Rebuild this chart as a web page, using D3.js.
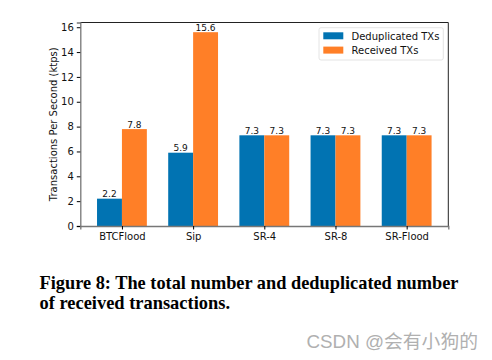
<!DOCTYPE html>
<html><head><meta charset="utf-8">
<script src="https://cdn.jsdelivr.net/npm/d3@7"></script>
<style>body{margin:0;background:#fff;}svg{display:block;}</style>
</head><body>
<script>
const categories = ["BTCFlood", "Sip", "SR-4", "SR-8", "SR-Flood"];
const dedupValues = [2.2, 5.9, 7.3, 7.3, 7.3];
const receivedValues = [7.8, 15.6, 7.3, 7.3, 7.3];
const seriesNames = ["Deduplicated TXs", "Received TXs"];
const seriesColors = ["#0173b2", "#ff7f27"];
const yTicks = [0, 2, 4, 6, 8, 10, 12, 14, 16];
const captionLines = ["Figure 8: The total number and deduplicated number", "of received transactions."];
const watermark = "CSDN @会有小狗的";

const W = 492, H = 360;
const svg = d3.select("body").append("svg").attr("width", W).attr("height", H);
const L = 80.3, R = 448.3, T = 22.5, B = 226;
const barW = 0.35;
const x = d3.scaleLinear().domain([-0.585, categories.length - 1 + 0.585]).range([L, R]);
const y = d3.scaleLinear().domain([0, 15.6 * 1.05]).range([B, T]);
const font = "DejaVu Sans";
const series = [dedupValues, receivedValues];

const g = svg.append("g");
series.forEach((vals, si) => {
  const off = si === 0 ? -barW / 2 : barW / 2;
  g.selectAll(".b" + si).data(vals).enter().append("rect")
    .attr("x", (d, i) => x(i + off - barW / 2))
    .attr("width", x(barW) - x(0))
    .attr("y", d => y(d))
    .attr("height", d => y(0) - y(d))
    .attr("fill", seriesColors[si]);
  g.selectAll(".t" + si).data(vals).enter().append("text")
    .attr("x", (d, i) => x(i + off))
    .attr("y", d => y(d) - 1.5)
    .attr("text-anchor", "middle")
    .attr("font-family", font).attr("font-size", 9).attr("fill", "#111")
    .text(d => d.toFixed(1));
});

// frame
svg.append("line").attr("x1", L).attr("x2", R).attr("y1", T).attr("y2", T).attr("stroke", "#222").attr("stroke-width", 1);
svg.append("line").attr("x1", R).attr("x2", R).attr("y1", T).attr("y2", B).attr("stroke", "#222").attr("stroke-width", 1);

const yAxis = d3.axisLeft(y).tickValues(yTicks).tickSize(3.5).tickPadding(3).tickFormat(d3.format("d"));
const ya = svg.append("g").attr("transform", `translate(${L},0)`).call(yAxis);
ya.select(".domain").attr("stroke", "#777").attr("stroke-width", 1.3);
ya.selectAll("text").attr("font-family", font).attr("font-size", 10).attr("fill", "#111");

const xAxis = d3.axisBottom(x).tickValues(d3.range(categories.length)).tickSize(3.5).tickPadding(3).tickFormat(i => categories[i]);
const xa = svg.append("g").attr("transform", `translate(0,${B})`).call(xAxis);
xa.select(".domain").attr("stroke", "#777").attr("stroke-width", 1.3);
xa.selectAll("text").attr("font-family", font).attr("font-size", 10).attr("fill", "#111");

svg.append("text").attr("transform", `translate(56.5,${(T + B) / 2}) rotate(-90)`)
  .attr("text-anchor", "middle").attr("font-family", font).attr("font-size", 10).attr("fill", "#111")
  .text("Transactions Per Second (ktps)");

// legend
const lg = svg.append("g");
lg.append("rect").attr("x", 319).attr("y", 27.7).attr("width", 124.3).attr("height", 32.3).attr("rx", 2)
  .attr("fill", "#fff").attr("stroke", "#ddd").attr("stroke-width", 0.8);
seriesNames.forEach((n, i) => {
  lg.append("rect").attr("x", 323.3).attr("y", 32.3 + i * 14.3).attr("width", 20).attr("height", 7)
    .attr("fill", seriesColors[i]);
  lg.append("text").attr("x", 351.5).attr("y", 39.6 + i * 14.3)
    .attr("font-family", font).attr("font-size", 10).attr("fill", "#111").text(n);
});

// caption
const capLens = [419, 190.5];
captionLines.forEach((t, i) => {
  svg.append("text").attr("x", 39.5).attr("y", 288.5 + i * 20.5)
    .attr("font-family", "Liberation Serif").attr("font-weight", "bold").attr("font-size", 18.3)
    .attr("fill", "#000").attr("textLength", capLens[i]).attr("lengthAdjust", "spacingAndGlyphs").text(t);
});

svg.append("text").attr("x", 306.5).attr("y", 348)
  .attr("font-family", "Liberation Sans, Noto Sans CJK SC").attr("font-size", 18.5).attr("fill", "#b0b0b0")
  .attr("textLength", 171.5).attr("lengthAdjust", "spacingAndGlyphs")
  .text(watermark);
</script>
</body></html>
